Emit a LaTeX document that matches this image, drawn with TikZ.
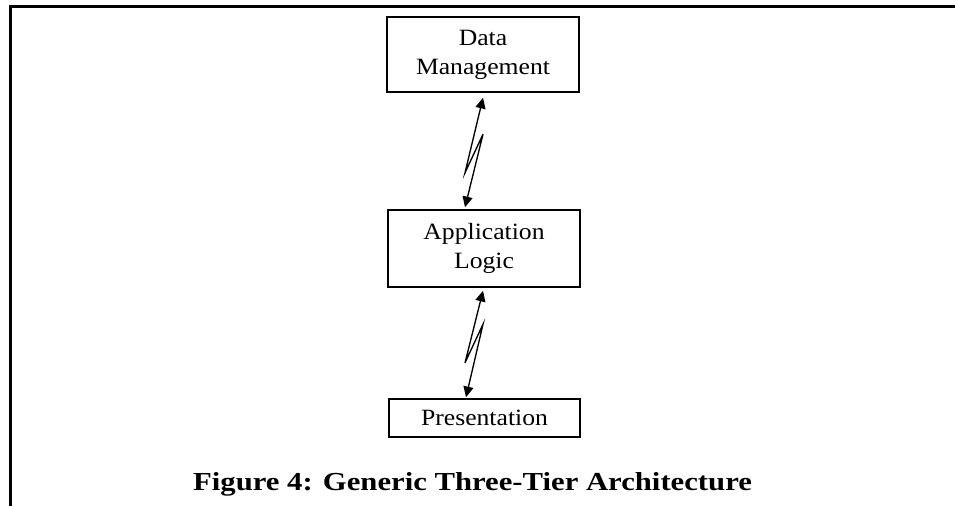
\documentclass[tikz,border=0pt]{standalone}
\usepackage{graphicx}
\usepackage{fontspec}
\setmainfont{Liberation Serif}
\newfontfamily\boxfont[FakeStretch=1.1]{Liberation Serif}
\usetikzlibrary{arrows.meta,calc}
\begin{document}
\begin{tikzpicture}[x=0.75pt,y=-0.75pt,
  tier/.style={draw, line width=1.15pt, inner sep=0pt, minimum width=144pt,
    font=\boxfont\fontsize{17.5pt}{21.75pt}\selectfont, align=center},
  link/.style={line width=1pt, line join=miter,
    {Triangle[length=8pt,width=7.5pt]}-{Triangle[length=8pt,width=7.5pt]}},
  frameline/.style={line width=1.6pt}]
\useasboundingbox (0,0) rectangle (955,506);
\draw[frameline] (10.5,506) -- (10.5,6.5) -- (955,6.5);
\node[tier, minimum height=56.25pt] (dm) at (483,54.5) {Data\\Management};
\node[tier, minimum height=57.75pt] (al) at (484,248.5) {Application\\Logic};
\node[tier, minimum height=28.5pt, minimum width=143.25pt] (pr) at (484.5,418) {Presentation};
\node[anchor=base, inner sep=0pt] (cap) at (472.5,490)
  {\resizebox{419pt}{13.5pt}{\bfseries Figure 4: Generic Three-Tier Architecture}};
% upper lightning connector
\coordinate (u1) at ($(dm.south)+(0,5)$);
\coordinate (u2) at ($(dm.south)+(-18,80)$);
\coordinate (u3) at ($(al.north)+(-1,-75)$);
\coordinate (u4) at ($(al.north)+(-19,-2)$);
\draw[link] (u1) -- (u2) -- (u3) -- (u4);
% lower lightning connector
\coordinate (l1) at ($(al.south)+(-1,3)$);
\coordinate (l2) at ($(al.south)+(-19,75)$);
\coordinate (l3) at ($(pr.north)+(-1.5,-74)$);
\coordinate (l4) at ($(pr.north)+(-18.5,-1)$);
\draw[link] (l1) -- (l2) -- (l3) -- (l4);
\end{tikzpicture}
\end{document}
